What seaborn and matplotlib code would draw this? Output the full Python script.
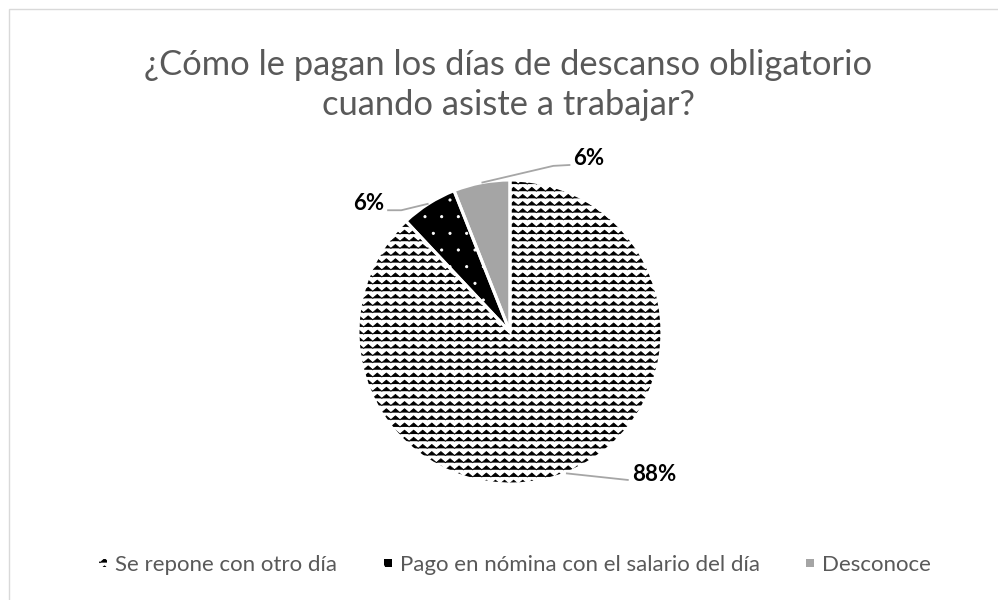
import warnings
warnings.filterwarnings("ignore")
import numpy as np
import matplotlib
matplotlib.use("Agg")
import matplotlib.pyplot as plt
import matplotlib.hatch as mhatch
from matplotlib.path import Path
from matplotlib.patches import Rectangle
import seaborn as sns

# ---------------- data ----------------
categories = ["Se repone con otro día",
              "Pago en nómina con el salario del día",
              "Desconoce"]
values = [88, 6, 6]
pct_labels = ["88%", "6%", "6%"]
title = "¿Cómo le pagan los días de descanso obligatorio\ncuando asiste a trabajar?"

# ---------------- style ----------------
sns.set_theme(style="white")
plt.rcParams["font.family"] = ["Lato", "DejaVu Sans"]
plt.rcParams["hatch.linewidth"] = 0.65


# custom zig-zag hatch ("z")
class ZigZagHatch(mhatch.HatchPatternBase):
    def __init__(self, hatch, density):
        n = hatch.count("z")
        self.rows = 14 * n
        self.periods = 11
        self.k = 2 * self.periods + 1
        self.num_vertices = self.rows * self.k if n else 0

    def set_vertices_and_codes(self, vertices, codes):
        xs = np.linspace(0, 1, self.k)
        amp = 0.27 / self.rows
        for r in range(self.rows):
            y0 = (r + 0.5) / self.rows
            ys = y0 + np.where(np.arange(self.k) % 2 == 0, -amp, amp)
            vertices[r * self.k:(r + 1) * self.k, 0] = xs
            vertices[r * self.k:(r + 1) * self.k, 1] = ys
            codes[r * self.k] = Path.MOVETO
            codes[r * self.k + 1:(r + 1) * self.k] = Path.LINETO


# custom tiny dots hatch ("d")
class TinyDots(mhatch.Circles):
    size = 0.065
    filled = True

    def __init__(self, hatch, density):
        self.num_rows = hatch.count("d") * density
        super().__init__(hatch, density)


mhatch._hatch_types.append(ZigZagHatch)
mhatch._hatch_types.append(TinyDots)

W, H = 998, 600
fig = plt.figure(figsize=(W / 100, H / 100), dpi=100)
fig.patch.set_facecolor("white")

# border
fig.add_artist(Rectangle((9 / W, -0.05), 1.2, 1.05 - 8.5 / H, transform=fig.transFigure,
                         fill=False, edgecolor="#d9d9d9", linewidth=1.0))

R = 152.0
cx, cy = 510, 332
half = 200
ax = fig.add_axes([(cx - half) / W, (H - cy - half) / H, 2 * half / W, 2 * half / H])

face = ["white", "black", "#a5a5a5"]
hatches = ["z", "d", None]
hatch_edge = ["black", "white", "#a5a5a5"]

wedges, _ = ax.pie(values, startangle=90, counterclock=False, colors=face,
                   wedgeprops=dict(linewidth=0))
for w, h, ec in zip(wedges, hatches, hatch_edge):
    w.set_edgecolor(ec)
    w.set_linewidth(0)
    if h:
        w.set_hatch(h)

# white separators
sep, _ = ax.pie(values, startangle=90, counterclock=False, colors=["none"] * 3,
                wedgeprops=dict(linewidth=2.2, edgecolor="white", fill=False))

lim = half / R
ax.set_xlim(-lim, lim)
ax.set_ylim(-lim, lim)
ax.axis("off")

# leader lines + labels (layout, in pie radius units)
layout = [
    # elbow, end, text pos, ha
    (None, (0.781, -0.974), (0.805, -0.935), "left"),
    ((-0.715, 0.801), (-0.808, 0.801), (-0.828, 0.845), "right"),
    ((0.285, 1.093), (0.397, 1.099), (0.415, 1.140), "left"),
]
lc = "#a6a6a6"
for w, lab, (elbow, end, tpos, ha) in zip(wedges, pct_labels, layout):
    mid = np.deg2rad((w.theta1 + w.theta2) / 2)
    start = (np.cos(mid), np.sin(mid))
    pts = [start] + ([elbow] if elbow else []) + [end]
    xs, ys = zip(*pts)
    ax.plot(xs, ys, color=lc, lw=1.3, solid_capstyle="butt", clip_on=False)
    ax.text(tpos[0], tpos[1], lab, ha=ha, va="center", fontsize=16,
            fontweight="bold", color="#000000", clip_on=False)

fig.text(508 / W, 1 - 49 / H, title, ha="center", va="top", fontsize=24.8,
         color="#595959", linespacing=1.30)

leg = fig.legend(handles=wedges, labels=categories, ncol=3, loc="center",
                 bbox_to_anchor=(515 / W, 1 - 565 / H), frameon=False,
                 fontsize=16, handlelength=0.36, handleheight=0.18,
                 handletextpad=0.36, columnspacing=2.1, labelcolor="#595959")

fig.savefig("out.png", dpi=100, facecolor="white")
